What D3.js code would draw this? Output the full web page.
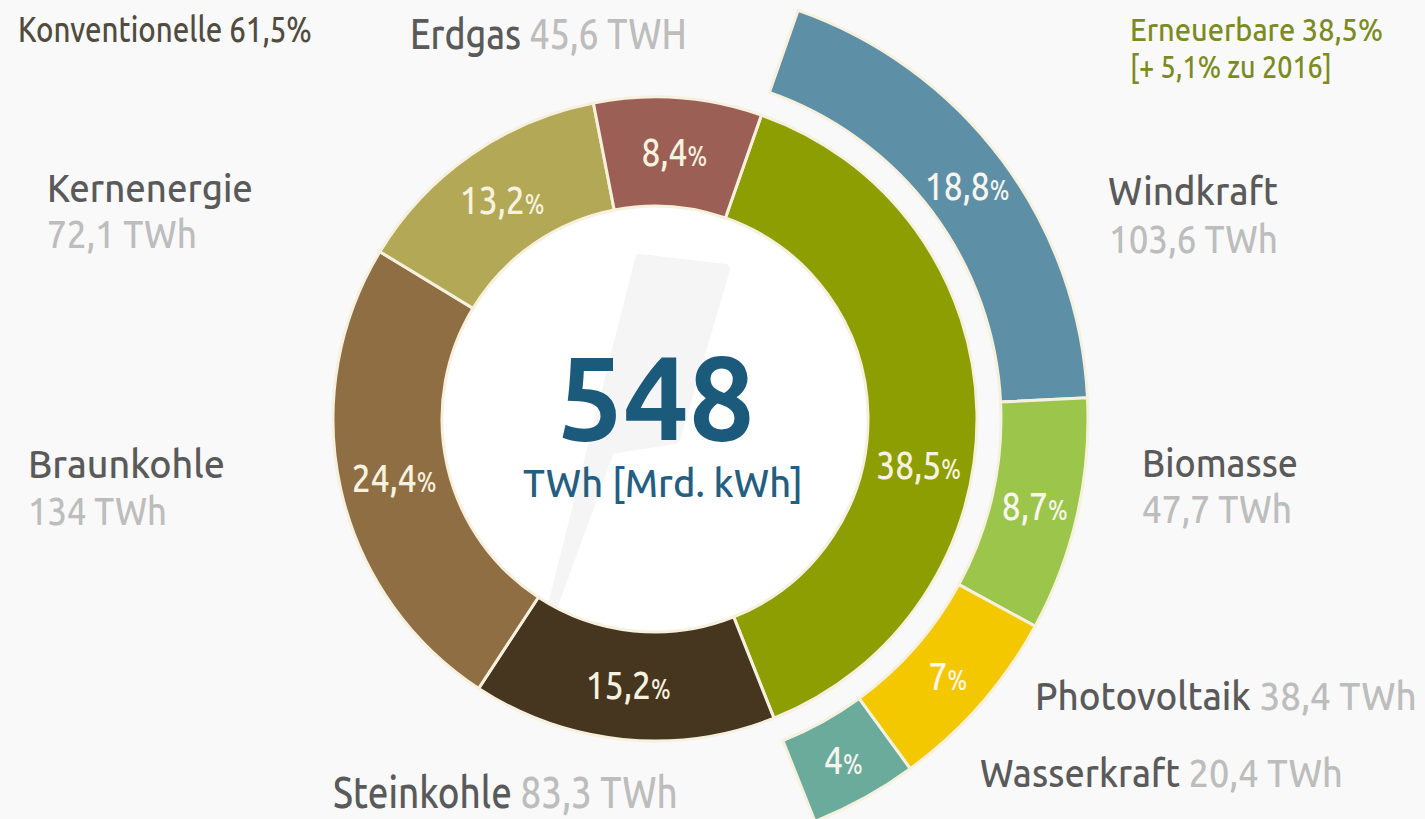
<!DOCTYPE html>
<html>
<head>
<meta charset="utf-8">
<script src="https://cdn.jsdelivr.net/npm/d3@7"></script>
<style>
  html, body { margin: 0; padding: 0; background: #f9f9f9; }
  svg { display: block; }
  text { font-family: "Ubuntu Condensed", "Ubuntu", "Open Sans", sans-serif; }
</style>
</head>
<body>
<svg id="chart" width="1425" height="819"></svg>
<script>
/* Bruttostromerzeugung nach Energietraegern, Ring + Aussenring fuer Erneuerbare */
var totalTwh = 548;
var conventionalShare = 61.5;
var renewableShare = 38.5;
var renewableGain = 5.1, gainYear = 2016;

var innerKeys   = ['Erneuerbare', 'Steinkohle', 'Braunkohle', 'Kernenergie', 'Erdgas'];
var innerShares = [38.5, 15.2, 24.4, 13.2, 8.4];
var innerTwh    = [null, 83.3, 134, 72.1, 45.6];
var innerUnits  = ['', 'TWh', 'TWh', 'TWh', 'TWH'];

var outerKeys   = ['Windkraft', 'Biomasse', 'Photovoltaik', 'Wasserkraft'];
var outerShares = [18.8, 8.7, 7, 4];
var outerTwh    = [103.6, 47.7, 38.4, 20.4];

(function () {
  'use strict';
  var svg = d3.select('#chart');
  var W = 1425, H = 819;
  var cx = 655, cy = 419;
  var r0 = 213, r1 = 322, r2 = 346, r3 = 433;
  var startDeg = 19.3;
  var rad = Math.PI / 180;

  var colors = {
    Erneuerbare: '#8c9e02', Steinkohle: '#46351f', Braunkohle: '#8f6e44',
    Kernenergie: '#b3a856', Erdgas: '#9c5f56',
    Windkraft: '#5d8fa7', Biomasse: '#9cc54b', Photovoltaik: '#f4c800', Wasserkraft: '#6aab9c'
  };
  var nameCol = '#5a5a5a', valueCol = '#bdbdbd', sep = '#f6f1df';

  function fmt(v) { return String(v).replace('.', ','); }

  svg.append('rect').attr('width', W).attr('height', H).attr('fill', '#f9f9f9');

  var g = svg.append('g').attr('transform', 'translate(' + cx + ',' + cy + ')');

  /* inner white disc + faint lightning bolt */
  g.append('circle').attr('r', r0).attr('fill', '#ffffff');
  g.append('path')
    .attr('d', 'M-15,-160 L70,-150 L20,20 L-45,30 L-102,186 Z')
    .attr('fill', '#f5f5f5').attr('stroke', '#f5f5f5')
    .attr('stroke-width', 10).attr('stroke-linejoin', 'round');

  var innerData = innerKeys.map(function (k, i) {
    return { key: k, share: innerShares[i], twh: innerTwh[i], unit: innerUnits[i] };
  });
  var outerData = outerKeys.map(function (k, i) {
    return { key: k, share: outerShares[i], twh: outerTwh[i] };
  });

  var a0 = startDeg * rad;
  var innerPie = d3.pie().sort(null).value(function (d) { return d.share; })
    .startAngle(a0).endAngle(a0 + 2 * Math.PI);
  var innerArcs = innerPie(innerData);

  var ren = innerArcs[0];
  var outerPie = d3.pie().sort(null).value(function (d) { return d.share; })
    .startAngle(ren.startAngle).endAngle(ren.endAngle);
  var outerArcs = outerPie(outerData);

  var arcIn = d3.arc().innerRadius(r0).outerRadius(r1);
  var arcOut = d3.arc().innerRadius(r2).outerRadius(r3);

  g.selectAll('path.inner').data(innerArcs).enter().append('path')
    .attr('class', 'inner')
    .attr('d', arcIn)
    .attr('fill', function (d) { return colors[d.data.key]; })
    .attr('stroke', sep).attr('stroke-width', 3);

  g.selectAll('path.outer').data(outerArcs).enter().append('path')
    .attr('class', 'outer')
    .attr('d', arcOut)
    .attr('fill', function (d) { return colors[d.data.key]; })
    .attr('stroke', sep).attr('stroke-width', 3);

  /* percentage labels inside the slices */
  var labelShift = { Erneuerbare: 11 };   // deg, keeps 38,5% on the line of 8,7%
  function pctLabel(d, arcGen, col) {
    var c;
    if (labelShift[d.data.key]) {
      var mid = (d.startAngle + d.endAngle) / 2 + labelShift[d.data.key] * rad;
      var rm = (arcGen.innerRadius()() + arcGen.outerRadius()()) / 2;
      c = [rm * Math.sin(mid), -rm * Math.cos(mid)];
    } else {
      c = arcGen.centroid(d);
    }
    var t = g.append('text').attr('text-anchor', 'middle').attr('fill', col)
      .attr('font-size', 40).attr('font-weight', 500);
    t.append('tspan').text(fmt(d.data.share));
    t.append('tspan').attr('font-size', 27).text('%');
    t.attr('transform', 'translate(' + c[0] + ',' + (c[1] + 14) + ') scale(0.84,1)');
  }
  innerArcs.forEach(function (d) { pctLabel(d, arcIn, '#f7f2df'); });
  outerArcs.forEach(function (d) { pctLabel(d, arcOut, '#f7f5ee'); });

  /* text helper: parts = [[text, colour], ...], squeezed to width w */
  function addLabel(x, y, w, size, parts, anchor, weight) {
    var t = svg.append('text').attr('font-size', size)
      .attr('text-anchor', anchor || 'start')
      .attr('font-weight', weight || 500);
    parts.forEach(function (p) { t.append('tspan').attr('fill', p[1]).text(p[0]); });
    var len = t.node().getComputedTextLength();
    t.attr('transform', 'translate(' + x + ',' + y + ') scale(' + (w / len) + ',1)');
    return t;
  }
  function byKey(arr, k) { return arr.filter(function (d) { return d.key === k; })[0]; }
  function twhText(d) { return fmt(d.twh) + ' ' + (d.unit || 'TWh'); }

  var erd = byKey(innerData, 'Erdgas'), ker = byKey(innerData, 'Kernenergie'),
      bra = byKey(innerData, 'Braunkohle'), ste = byKey(innerData, 'Steinkohle');
  var win = byKey(outerData, 'Windkraft'), bio = byKey(outerData, 'Biomasse'),
      pv = byKey(outerData, 'Photovoltaik'), was = byKey(outerData, 'Wasserkraft');

  addLabel(18, 42, 294, 35, [['Konventionelle ' + fmt(conventionalShare) + '%', '#514c40']]);
  addLabel(1130, 41, 253, 32, [['Erneuerbare ' + fmt(renewableShare) + '%', '#7b8b20']]);
  addLabel(1130, 78, 202, 32, [['[+ ' + fmt(renewableGain) + '% zu ' + gainYear + ']', '#7b8b20']]);

  addLabel(410, 49, 277, 42, [[erd.key + ' ', nameCol], [twhText(erd), valueCol]]);
  addLabel(47, 202, 206, 40, [[ker.key, nameCol]]);
  addLabel(47, 248, 150, 40, [[twhText(ker), valueCol]]);
  addLabel(28, 478, 197, 40, [[bra.key, nameCol]]);
  addLabel(28, 525, 139, 40, [[twhText(bra), valueCol]]);
  addLabel(333, 808, 345, 44, [[ste.key + ' ', nameCol], [twhText(ste), valueCol]]);

  addLabel(1108, 205, 170, 40, [[win.key, nameCol]]);
  addLabel(1109, 253, 169, 40, [[twhText(win), valueCol]]);
  addLabel(1142, 477, 156, 40, [[bio.key, nameCol]]);
  addLabel(1142, 523, 150, 40, [[twhText(bio), valueCol]]);
  addLabel(1035, 710, 382, 40, [[pv.key + ' ', nameCol], [twhText(pv), valueCol]]);
  addLabel(980, 787, 363, 40, [[was.key + ' ', nameCol], [twhText(was), valueCol]]);

  /* centre */
  addLabel(656, 440, 197, 118, [[String(totalTwh), '#1c5a7c']], 'middle', 700);
  addLabel(663, 497, 280, 39, [['TWh [Mrd. kWh]', '#245e80']], 'middle');
})();
</script>
</body>
</html>
